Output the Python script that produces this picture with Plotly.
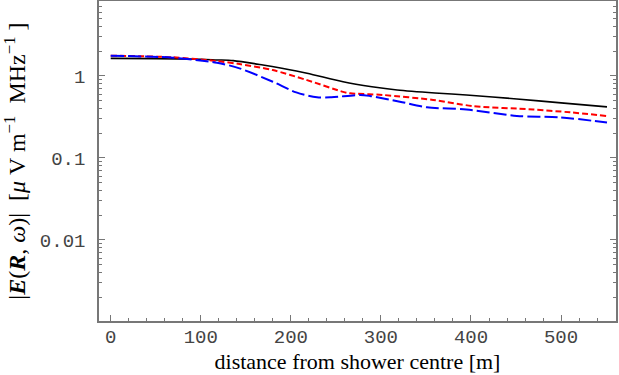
import plotly.graph_objects as go

# distance from shower centre [m]
dist_black = [0, 50, 100, 118, 136, 169, 190, 218, 258, 290, 318, 360, 395, 451, 500, 551]
val_black = [1.64, 1.63, 1.60, 1.57, 1.54, 1.36, 1.24, 1.08, 0.85, 0.74, 0.675, 0.62, 0.587, 0.524, 0.47, 0.42]

dist_red = [0, 69, 118, 143, 180, 218, 258, 266, 302, 358, 402, 469, 510, 551]
val_red = [1.77, 1.69, 1.52, 1.40, 1.18, 0.89, 0.64, 0.615, 0.587, 0.51, 0.43, 0.39, 0.36, 0.325]

dist_blue = [0, 69, 118, 143, 180, 206, 229, 245, 277, 288, 321, 351, 395, 451, 499, 551]
val_blue = [1.77, 1.67, 1.45, 1.24, 0.85, 0.63, 0.55, 0.55, 0.587, 0.57, 0.486, 0.415, 0.39, 0.325, 0.313, 0.27]

y_tick_vals = [0.01, 0.1, 1]
y_tick_text = ["0.01", "0.1", "1"]
x_tick_vals = [0, 100, 200, 300, 400, 500]

minor_y = [m * 10.0 ** e for e in range(-3, 1) for m in range(2, 10)] + [10.0 ** e for e in range(-3, 1)]

fig = go.Figure()
fig.add_trace(go.Scatter(x=dist_black, y=val_black, mode="lines", line=dict(color="black", width=1.6, shape="spline", smoothing=0.8)))
fig.add_trace(go.Scatter(x=dist_red, y=val_red, mode="lines", line=dict(color="#ff0000", width=2, dash="6px,3px", shape="spline", smoothing=0.8)))
fig.add_trace(go.Scatter(x=dist_blue, y=val_blue, mode="lines", line=dict(color="#0000ff", width=2, dash="13px,4px", shape="spline", smoothing=0.8)))

tickfont = dict(family="Liberation Mono, Courier New, monospace", size=19, color="#444444")
fig.update_layout(
    width=619, height=375,
    margin=dict(l=99, r=3, t=1, b=54),
    plot_bgcolor="white", paper_bgcolor="white",
    showlegend=False,
    xaxis=dict(
        range=[-13, 561], showgrid=False, zeroline=False, automargin=False,
        showline=True, linecolor="#777777", linewidth=1.5, mirror=True,
        ticks="inside", ticklen=6, tickcolor="#777777", ticklabelstandoff=-3,
        tickvals=x_tick_vals, tickfont=tickfont,
        minor=dict(dtick=20, tick0=0, ticks="inside", ticklen=3, tickcolor="#777777", showgrid=False),
        title=dict(text="distance from shower centre [m]", font=dict(family="Liberation Serif, Times New Roman, serif", size=22, color="black"), standoff=4),
    ),
    yaxis=dict(
        type="log", range=[-2.99, 0.915], showgrid=False, zeroline=False, automargin=False,
        showline=True, linecolor="#777777", linewidth=1.5, mirror="ticks",
        ticks="inside", ticklen=6, tickcolor="#777777", ticklabelstandoff=8,
        tickvals=y_tick_vals, ticktext=y_tick_text, tickfont=tickfont,
        minor=dict(tickvals=minor_y, ticks="inside", ticklen=3, tickcolor="#777777", showgrid=False),
        title=dict(text="|<b><i>E</i></b>(<b><i>R</i></b>, <i>ω</i>)|  [<i>μ</i> V m<sup>−1</sup>  MHz<sup>−1</sup> ]",
                   font=dict(family="Liberation Serif, Times New Roman, serif", size=24, color="black"), standoff=16),
    ),
)
fig.write_html("out.html", config={"displayModeBar": False},
               post_script="document.body.style.margin='0';document.body.style.overflow='hidden';")
